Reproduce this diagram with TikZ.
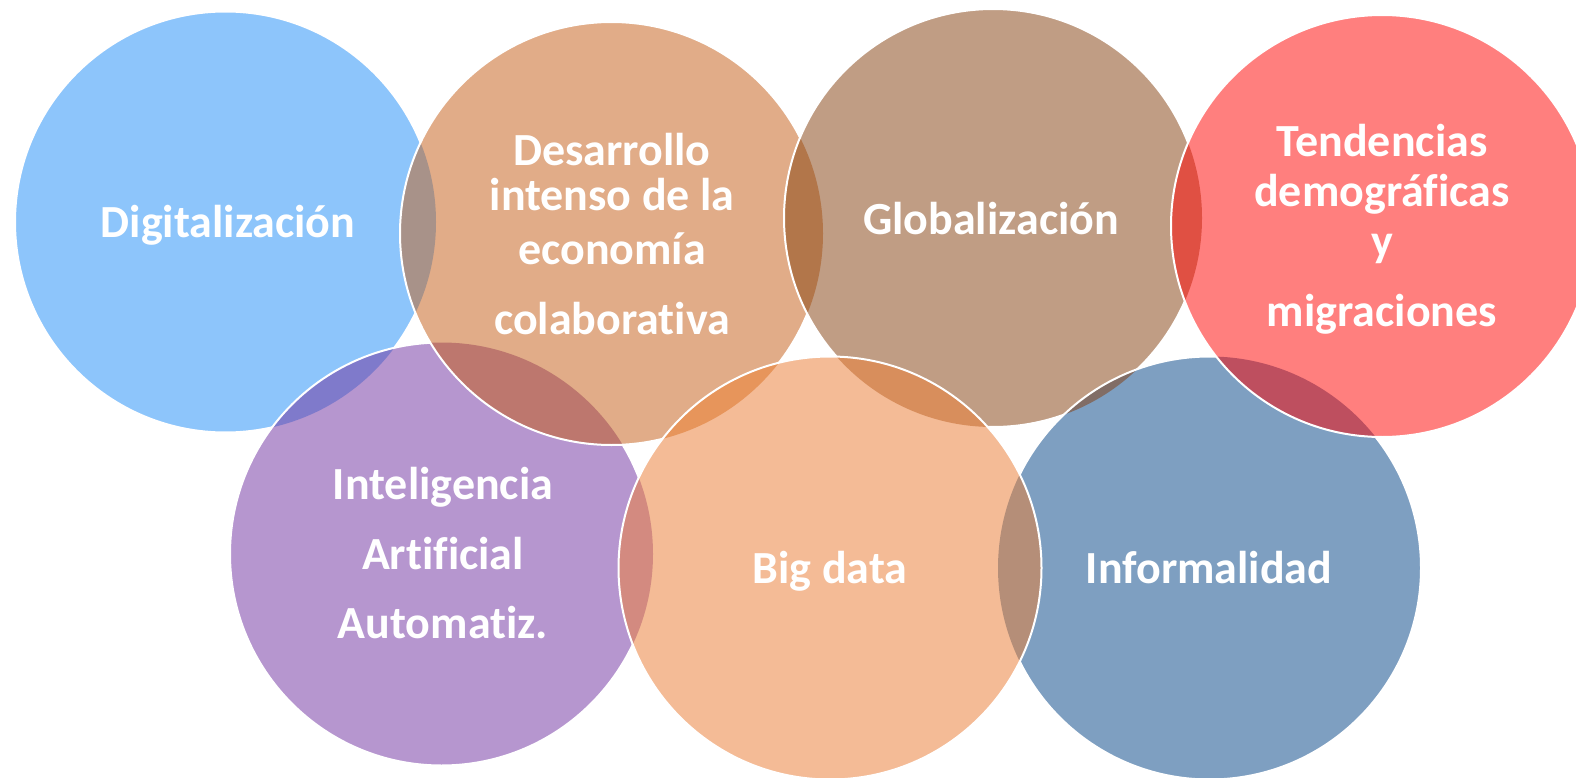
\documentclass[tikz,border=0pt]{standalone}
\usepackage{fontspec}
\setmainfont{Carlito}[Ligatures={NoCommon}]
\definecolor{cDig}{HTML}{8DC5FB}
\definecolor{cDes}{HTML}{E1AC88}
\definecolor{cGlo}{HTML}{C09D84}
\definecolor{cTen}{HTML}{FF7F7E}
\definecolor{cInt}{HTML}{B696CF}
\definecolor{cBig}{HTML}{F4BB96}
\definecolor{cInf}{HTML}{7E9FC1}
\definecolor{lDigDes}{HTML}{A89289}
\definecolor{lDigInt}{HTML}{7F7ACB}
\definecolor{lDesInt}{HTML}{BD776E}
\definecolor{lDesGlo}{HTML}{B2764A}
\definecolor{lGloTen}{HTML}{E05043}
\definecolor{lDesBig}{HTML}{E7955B}
\definecolor{lGloBig}{HTML}{D88E5C}
\definecolor{lGloInf}{HTML}{816D66}
\definecolor{lTenInf}{HTML}{BE4F5F}
\definecolor{lIntBig}{HTML}{D38A80}
\definecolor{lBigInf}{HTML}{B58E78}
\begin{document}
\begin{tikzpicture}[x=1pt,y=-1pt,
  lbl/.style={text=white,font=\bfseries\fontsize{46}{55}\selectfont,anchor=base,inner sep=0pt},
  ring/.style={draw=white,line width=2pt}]
\useasboundingbox (0,0) rectangle (1576,778);
\coordinate (cdig) at (225.5,222);
\coordinate (cdes) at (611.5,233.5);
\coordinate (cglo) at (993,218);
\coordinate (cten) at (1382,226);
\coordinate (cint) at (441.5,554);
\coordinate (cbig) at (830,568);
\coordinate (cinf) at (1209.5,568);
\def\rdig{210.5pt}\def\rdes{211.5pt}\def\rglo{209pt}\def\rten{211pt}
\def\rint{211.5pt}\def\rbig{211.5pt}\def\rinf{211.5pt}
% Digitalizacion
\fill[cDig] (cdig) circle[radius=\rdig];
\draw[ring] (cdig) circle[radius=\rdig];
% Inteligencia
\fill[cInt] (cint) circle[radius=\rint];
\begin{scope}\clip (cdig) circle[radius=\rdig]; \fill[lDigInt] (cint) circle[radius=\rint];\end{scope}
\draw[ring] (cint) circle[radius=\rint];
% Desarrollo
\fill[cDes] (cdes) circle[radius=\rdes];
\begin{scope}\clip (cdig) circle[radius=\rdig]; \fill[lDigDes] (cdes) circle[radius=\rdes];\end{scope}
\begin{scope}\clip (cint) circle[radius=\rint]; \fill[lDesInt] (cdes) circle[radius=\rdes];\end{scope}
\draw[ring] (cdes) circle[radius=\rdes];
% Globalizacion
\fill[cGlo] (cglo) circle[radius=\rglo];
\begin{scope}\clip (cdes) circle[radius=\rdes]; \fill[lDesGlo] (cglo) circle[radius=\rglo];\end{scope}
\draw[ring] (cglo) circle[radius=\rglo];
% Informalidad
\fill[cInf] (cinf) circle[radius=\rinf];
\begin{scope}\clip (cglo) circle[radius=\rglo]; \fill[lGloInf] (cinf) circle[radius=\rinf];\end{scope}
\draw[ring] (cinf) circle[radius=\rinf];
% Tendencias
\fill[cTen] (cten) circle[radius=\rten];
\begin{scope}\clip (cglo) circle[radius=\rglo]; \fill[lGloTen] (cten) circle[radius=\rten];\end{scope}
\begin{scope}\clip (cinf) circle[radius=\rinf]; \fill[lTenInf] (cten) circle[radius=\rten];\end{scope}
\draw[ring] (cten) circle[radius=\rten];
% Big data
\fill[cBig] (cbig) circle[radius=\rbig];
\begin{scope}\clip (cdes) circle[radius=\rdes]; \fill[lDesBig] (cbig) circle[radius=\rbig];\end{scope}
\begin{scope}\clip (cglo) circle[radius=\rglo]; \fill[lGloBig] (cbig) circle[radius=\rbig];\end{scope}
\begin{scope}\clip (cint) circle[radius=\rint]; \fill[lIntBig] (cbig) circle[radius=\rbig];\end{scope}
\begin{scope}\clip (cinf) circle[radius=\rinf]; \fill[lBigInf] (cbig) circle[radius=\rbig];\end{scope}
\draw[ring] (cbig) circle[radius=\rbig];
% Labels
\node[lbl] (tdig) at (228,237) {Digitalización};
\node[lbl] (tdes1) at (612,166) {Desarrollo};
\node[lbl] (tdes2) at (612,211) {intenso de la};
\node[lbl] (tdes3) at (612,264) {economía};
\node[lbl] (tdes4) at (612,334) {colaborativa};
\node[lbl] (tglo) at (991,234) {Globalización};
\node[lbl] (tten1) at (1382,157) {Tendencias};
\node[lbl] (tten2) at (1382,207) {demográficas};
\node[lbl] (tten3) at (1382,256) {y};
\node[lbl] (tten4) at (1382,326) {migraciones};
\node[lbl] (tint1) at (443,499) {Inteligencia};
\node[lbl] (tint2) at (443,569) {Artificial};
\node[lbl] (tint3) at (443,638) {Automatiz.};
\node[lbl] (tbig) at (830,583) {Big data};
\node[lbl] (tinf) at (1209,583) {Informalidad};
\end{tikzpicture}
\end{document}
